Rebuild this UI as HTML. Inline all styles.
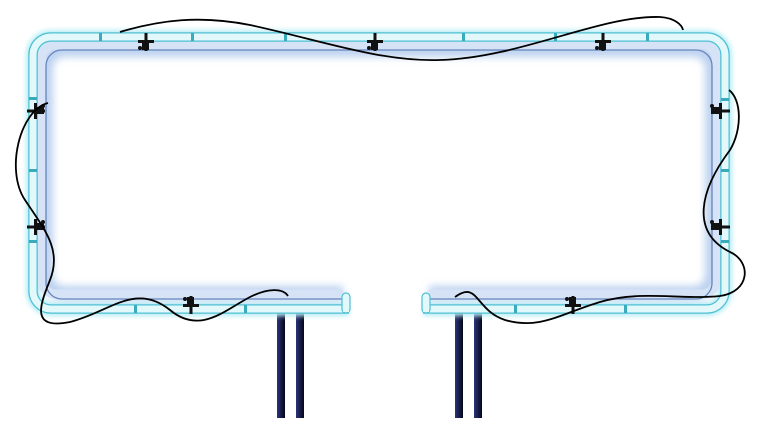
<!DOCTYPE html>
<html><head><style>html,body{margin:0;background:#fff;width:778px;height:428px;overflow:hidden}</style></head>
<body>
<svg width="778" height="428" viewBox="0 0 778 428" xmlns="http://www.w3.org/2000/svg">
<defs>
<linearGradient id="post" x1="0" x2="1"><stop offset="0" stop-color="#2b3478"/><stop offset="1" stop-color="#05061a"/></linearGradient>
<filter id="glow" x="-10%" y="-10%" width="120%" height="120%"><feGaussianBlur stdDeviation="2.5"/></filter>
<filter id="glow2" x="-10%" y="-10%" width="120%" height="120%"><feGaussianBlur stdDeviation="4"/></filter>
</defs>
<rect x="277" y="312" width="8" height="106" fill="url(#post)"/>
<rect x="296" y="312" width="8" height="106" fill="url(#post)"/>
<rect x="455" y="312" width="8" height="106" fill="url(#post)"/>
<rect x="474" y="312" width="8" height="106" fill="url(#post)"/>
<path d="M349,309 H51 A18,18 0 0 1 33,291 V55 A18,18 0 0 1 51,37 H707 A18,18 0 0 1 725,55 V291 A18,18 0 0 1 707,309 H423" fill="none" stroke="#b8eef6" stroke-width="14" filter="url(#glow)"/>
<path d="M343,293 H64 A18,18 0 0 1 46,275 V68 A18,18 0 0 1 64,50 H694 A18,18 0 0 1 712,68 V275 A18,18 0 0 1 694,293 H429" fill="none" stroke="#bcd2f0" stroke-width="14" filter="url(#glow2)"/>
<path d="M343,294 H58 A14,14 0 0 1 42,280 V62 A14,14 0 0 1 58,45 H700 A14,14 0 0 1 716,62 V280 A14,14 0 0 1 700,294 H429" fill="none" stroke="#d6e3f6" stroke-width="9"/>
<path d="M343,299 H62 A16,16 0 0 1 46,283 V66 A16,16 0 0 1 62,50 H696 A16,16 0 0 1 712,66 V283 A16,16 0 0 1 696,299 H429" fill="none" stroke="#6585bb" stroke-width="1.3"/>
<path d="M349,309 H51 A18,18 0 0 1 33,291 V55 A18,18 0 0 1 51,37 H707 A18,18 0 0 1 725,55 V291 A18,18 0 0 1 707,309 H423" fill="none" stroke="#4fbfd3" stroke-width="9.5"/>
<path d="M349,309 H51 A18,18 0 0 1 33,291 V55 A18,18 0 0 1 51,37 H707 A18,18 0 0 1 725,55 V291 A18,18 0 0 1 707,309 H423" fill="none" stroke="#e2f8fb" stroke-width="7"/>
<rect x="342" y="293" width="8" height="20" rx="4" fill="#e2f8fb" stroke="#4fbfd3" stroke-width="1.2"/>
<rect x="422" y="293" width="8" height="20" rx="4" fill="#e2f8fb" stroke="#4fbfd3" stroke-width="1.2"/>
<rect x="343" y="305" width="6" height="7" fill="#e2f8fb"/>
<rect x="423" y="305" width="6" height="7" fill="#e2f8fb"/>
<g fill="#3aabbd">
<rect x="99" y="33" width="3" height="8"/><rect x="191" y="33" width="3" height="8"/><rect x="284" y="33" width="3" height="8"/>
<rect x="462" y="33" width="3" height="8"/><rect x="554" y="33" width="3" height="8"/><rect x="646" y="33" width="3" height="8"/>
<rect x="29" y="97" width="8" height="3"/><rect x="29" y="169" width="8" height="3"/><rect x="29" y="240" width="8" height="3"/>
<rect x="721" y="98" width="8" height="3"/><rect x="721" y="169" width="8" height="3"/><rect x="721" y="240" width="8" height="3"/>
<rect x="134" y="305" width="3" height="8"/><rect x="244" y="305" width="3" height="8"/><rect x="514" y="305" width="3" height="8"/><rect x="624" y="305" width="3" height="8"/>
</g>
<g fill="#111">
<g transform="translate(146,42)"><rect x="-1.5" y="-9" width="3" height="18"/><rect x="-8" y="-2" width="16" height="3"/><rect x="-4" y="-1" width="7" height="9"/><circle cx="-6" cy="6" r="2"/></g>
<g transform="translate(375,42)"><rect x="-1.5" y="-9" width="3" height="18"/><rect x="-8" y="-2" width="16" height="3"/><rect x="-4" y="-1" width="7" height="9"/><circle cx="-6" cy="6" r="2"/></g>
<g transform="translate(603,42)"><rect x="-1.5" y="-9" width="3" height="18"/><rect x="-8" y="-2" width="16" height="3"/><rect x="-4" y="-1" width="7" height="9"/><circle cx="-6" cy="6" r="2"/></g>
<g transform="translate(36,111)"><rect x="-9" y="-1.5" width="18" height="3"/><rect x="-2" y="-8" width="3" height="16"/><rect x="-1" y="-4" width="9" height="7"/><circle cx="7" cy="-5" r="2"/></g>
<g transform="translate(36,227)"><rect x="-9" y="-1.5" width="18" height="3"/><rect x="-2" y="-8" width="3" height="16"/><rect x="-1" y="-4" width="9" height="7"/><circle cx="7" cy="-5" r="2"/></g>
<g transform="translate(721,111)"><rect x="-9" y="-1.5" width="18" height="3"/><rect x="-2" y="-8" width="3" height="16"/><rect x="-10" y="-4" width="9" height="7"/><circle cx="-9" cy="-5" r="2"/></g>
<g transform="translate(721,227)"><rect x="-9" y="-1.5" width="18" height="3"/><rect x="-2" y="-8" width="3" height="16"/><rect x="-10" y="-4" width="9" height="7"/><circle cx="-9" cy="-5" r="2"/></g>
<g transform="translate(191,305)"><rect x="-1.5" y="-9" width="3" height="18"/><rect x="-8" y="-1" width="16" height="3"/><rect x="-4" y="-8" width="7" height="9"/><circle cx="-6" cy="-6" r="2"/></g>
<g transform="translate(573,305)"><rect x="-1.5" y="-9" width="3" height="18"/><rect x="-8" y="-1" width="16" height="3"/><rect x="-4" y="-8" width="7" height="9"/><circle cx="-6" cy="-6" r="2"/></g>
</g>
<g fill="none" stroke="#000" stroke-width="1.8">
<path d="M120,32 C160,20 200,15 250,25 C320,40 380,62 440,60 C520,58 600,15 660,17 C675,18 682,25 683,30"/>
<path d="M48,103 C20,110 5,170 25,200 C45,230 62,250 50,280 C40,305 30,330 70,322 C110,312 135,282 170,310 C200,335 225,310 250,297 C268,288 283,288 288,296"/>
<path d="M729,90 C742,100 742,130 730,150 C700,190 690,232 730,252 C752,262 750,292 720,296 C680,300 640,290 600,302 C560,314 540,330 505,320 C475,310 478,280 455,297"/>
</g>
</svg>
</body></html>
